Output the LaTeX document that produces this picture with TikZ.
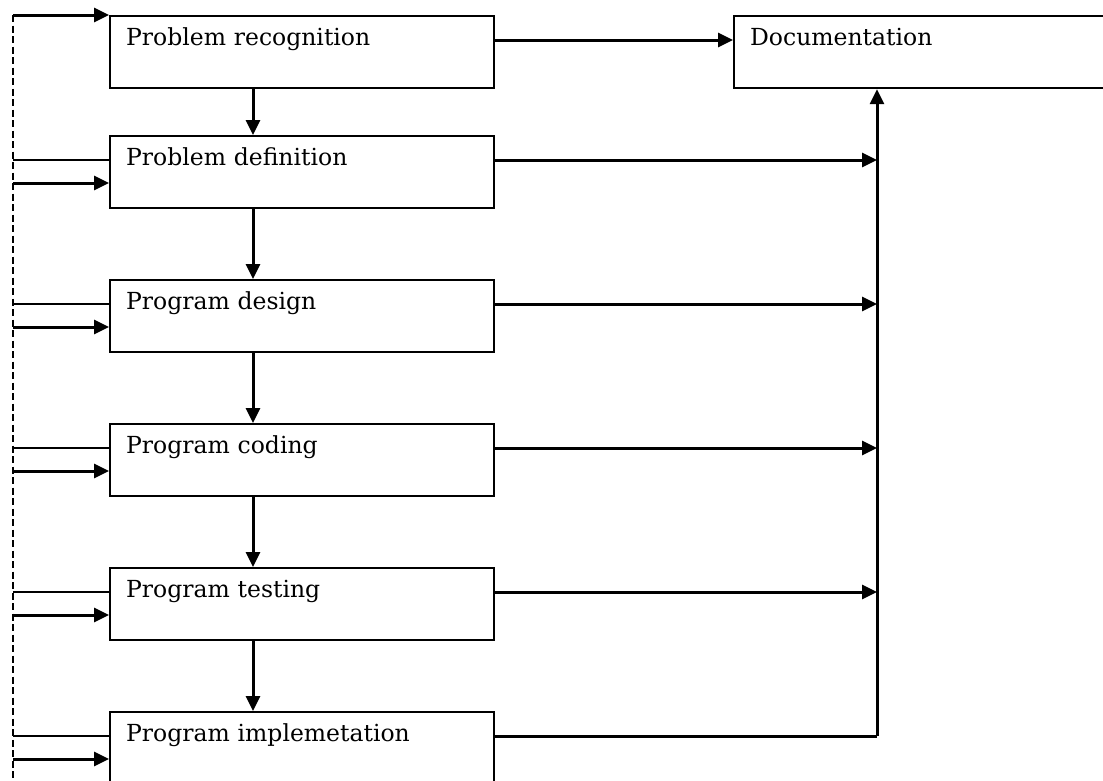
\documentclass[tikz,border=0pt]{standalone}
\usepackage{fontspec}
\setmainfont{DejaVu Serif}
\usetikzlibrary{arrows.meta,calc}
\begin{document}
\begin{tikzpicture}[x=1pt,y=-1pt,
  stagebox/.style={draw, line width=2.2pt, anchor=north west, inner xsep=16pt, inner ysep=0pt,
    text width=352pt, align=left, text height=29pt, text depth=43pt,
    font=\fontsize{23.5}{28}\selectfont},
  docbox/.style={stagebox, text width=345pt},
  arr/.style={line width=3pt, -{Triangle[length=15pt,width=14pt]}},
  plainline/.style={line width=3pt},
  thinline/.style={line width=1.6pt},
  dashline/.style={line width=1.6pt, dash pattern=on 7pt off 3.5pt}
]
\useasboundingbox (0,0) rectangle (1103,780);
\node[stagebox] (b1) at (109,15) {Problem recognition};
\node[stagebox] (b2) at (109,135) {Problem definition};
\node[stagebox] (b3) at (109,279) {Program design};
\node[stagebox] (b4) at (109,423) {Program coding};
\node[stagebox] (b5) at (109,567) {Program testing};
\node[stagebox] (b6) at (109,711) {Program implemetation};
\node[docbox] (doc) at (733,15) {Documentation};
\coordinate (dx) at (253,0);
\coordinate (rx) at (877,0);
\coordinate (lx) at (13,0);
\coordinate (ltop) at (13,15);
\coordinate (lbot) at (13,790);
% dashed feedback line
\draw[dashline] (ltop) -- (lbot);
\draw[arr] (ltop) -- (b1.north west);
% down arrows
\draw[arr] (b1.south -| dx) -- (b2.north -| dx);
\draw[arr] (b2.south -| dx) -- (b3.north -| dx);
\draw[arr] (b3.south -| dx) -- (b4.north -| dx);
\draw[arr] (b4.south -| dx) -- (b5.north -| dx);
\draw[arr] (b5.south -| dx) -- (b6.north -| dx);
% to documentation
\draw[arr] ($(b1.north east)+(0,25)$) -- ($(doc.north west)+(0,25)$);
\coordinate (rbot) at ($(b6.north -| rx)+(0,25)$);
\draw[arr] (rbot) -- (doc.south -| rx);
\foreach \b in {b2,b3,b4,b5}{
  \draw[arr] ($(\b.north east)+(0,25)$) -- ($(\b.north -| rx)+(0,25)$);
}
\draw[plainline] ($(b6.north east)+(0,25)$) -- ($(b6.north -| rx)+(0,25)$);
% left side lines
\foreach \b in {b2,b3,b4,b5,b6}{
  \draw[thinline] ($(\b.north west)+(0,25)$) -- ($(\b.north -| lx)+(0,25)$);
  \draw[arr] ($(\b.north -| lx)+(0,48)$) -- ($(\b.north west)+(0,48)$);
}
\end{tikzpicture}
\end{document}
